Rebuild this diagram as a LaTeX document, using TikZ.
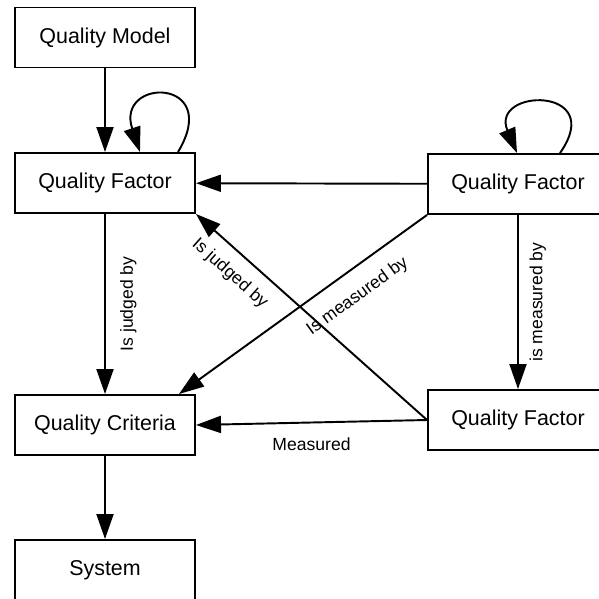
\documentclass[tikz,border=0pt]{standalone}
\usepackage{fontspec}
\setmainfont{Liberation Sans}
\usetikzlibrary{arrows.meta, calc}

\begin{document}
\begin{tikzpicture}[>={Triangle[length=0.5cm, width=0.34cm]}, line width=1.1pt,
  box/.style={draw, minimum width=3.6cm, minimum height=1.2cm, font=\fontsize{12.2}{14}\selectfont},
  lbl/.style={font=\fontsize{10}{12}\selectfont}]
  \useasboundingbox (0,0) rectangle (11.98,-11.98);

  \node[box] (model)    at (2.1,-0.75)   {Quality Model};
  \node[box] (factor)   at (2.1,-3.66)   {Quality Factor};
  \node[box] (factorR)  at (10.36,-3.68) {Quality Factor};
  \node[box] (criteria) at (2.1,-8.5)    {Quality Criteria};
  \node[box] (factorB)  at (10.36,-8.4)  {Quality Factor};
  \node[box] (system)   at (2.1,-11.4)   {System};

  % left column
  \draw[->] (model) -- (factor);
  \draw[->] (factor) -- node[lbl, midway, rotate=90, anchor=north, inner sep=8pt] {Is judged by} (criteria);
  \draw[->] (criteria) -- (system);

  % self loops
  \draw[->] ($(factor.north)+(1.46,0)$) .. controls +(0.9,1.5) and +(-0.5,1.5) .. ($(factor.north)+(0.7,0)$);
  \draw[->] ($(factorR.north)+(0.84,0)$) .. controls +(0.95,1.35) and +(-0.55,1.3) .. ($(factorR.north)+(-0.02,0)$);

  % right side
  \draw[->] (factorR) -- (factor);
  \draw[->] (factorR) -- node[lbl, midway, rotate=90, anchor=north, inner sep=6pt] {is measured by} (factorB);
  \draw[->] (factorR.south west) -- node[lbl, pos=0.34, sloped, below=6pt] {Is measured by} ($(criteria.north east)+(-0.34,0)$);
  \draw[->] (factorB.west) -- node[lbl, pos=0.79, sloped, below=4pt] {Is judged by} (factor.south east);
  \draw[->] (factorB.west) -- node[lbl, midway, below=5pt] {Measured} (criteria.east);
\end{tikzpicture}
\end{document}
